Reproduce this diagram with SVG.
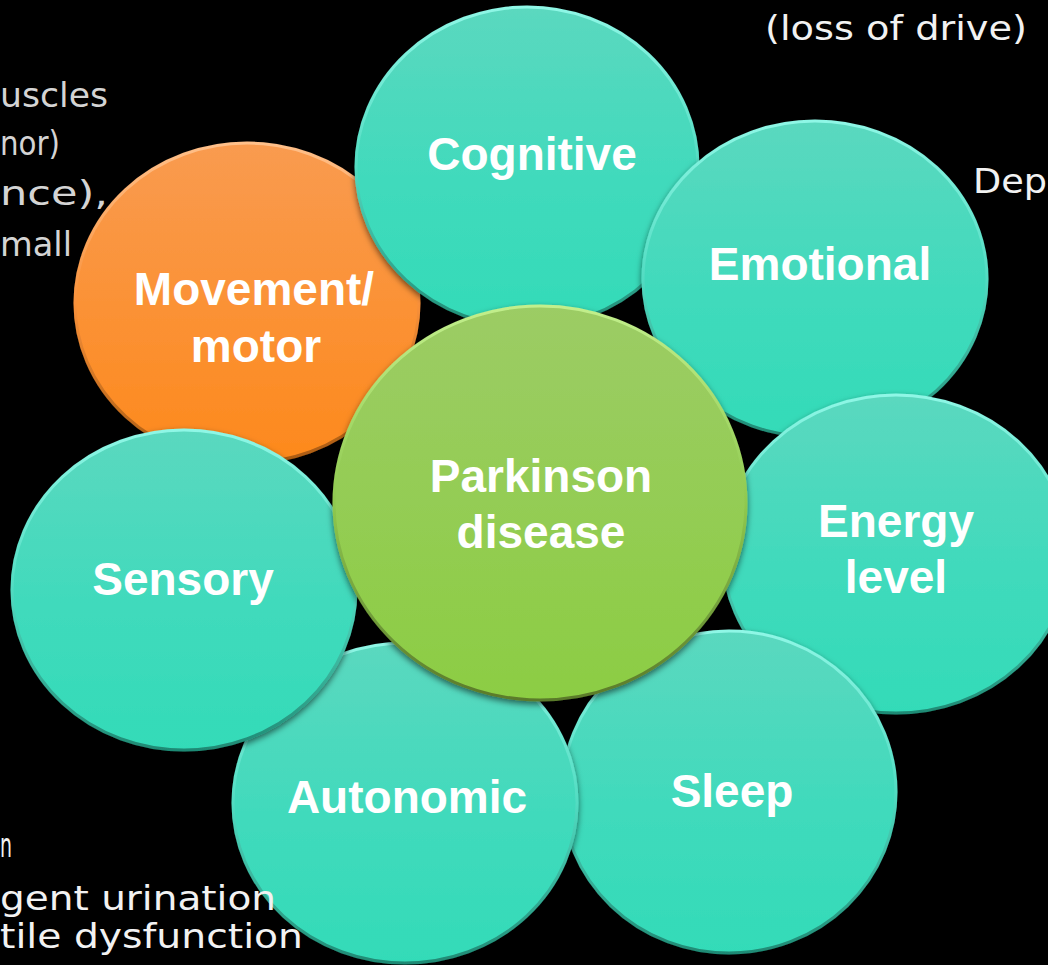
<svg xmlns="http://www.w3.org/2000/svg" width="1048" height="965" viewBox="0 0 1048 965">
  <defs>
    <linearGradient id="gTeal" x1="0" y1="0" x2="0" y2="1">
      <stop offset="0" stop-color="#5bd8bf"/>
      <stop offset="0.55" stop-color="#40dabc"/>
      <stop offset="1" stop-color="#33dbb8"/>
    </linearGradient>
    <linearGradient id="sTeal" x1="0" y1="0" x2="0" y2="1">
      <stop offset="0" stop-color="#8ff7e6"/>
      <stop offset="0.5" stop-color="#52dcc2"/>
      <stop offset="1" stop-color="#1f8a74"/>
    </linearGradient>
    <linearGradient id="gGreen" x1="0" y1="0" x2="0" y2="1">
      <stop offset="0" stop-color="#9ccc65"/>
      <stop offset="1" stop-color="#8ccd43"/>
    </linearGradient>
    <linearGradient id="sGreen" x1="0" y1="0" x2="0" y2="1">
      <stop offset="0" stop-color="#c2ef8c"/>
      <stop offset="0.5" stop-color="#8fc94f"/>
      <stop offset="1" stop-color="#5a7a2a"/>
    </linearGradient>
    <linearGradient id="gOrange" x1="0" y1="0" x2="0" y2="1">
      <stop offset="0" stop-color="#f99b50"/>
      <stop offset="1" stop-color="#fd891c"/>
    </linearGradient>
    <linearGradient id="sOrange" x1="0" y1="0" x2="0" y2="1">
      <stop offset="0" stop-color="#ffc08a"/>
      <stop offset="0.5" stop-color="#f9913a"/>
      <stop offset="1" stop-color="#a85a10"/>
    </linearGradient>
    <filter id="sh" x="-10%" y="-10%" width="120%" height="125%">
      <feDropShadow dx="0" dy="3" stdDeviation="3" flood-color="#000" flood-opacity="0.55"/>
    </filter>
  </defs>
  <style>
    .teal { fill: url(#gTeal); stroke: url(#sTeal); stroke-width: 3; filter: url(#sh); }
    .green { fill: url(#gGreen); stroke: url(#sGreen); stroke-width: 3; filter: url(#sh); }
    .orange { fill: url(#gOrange); stroke: url(#sOrange); stroke-width: 3; filter: url(#sh); }
    .lbl { font-family: "Liberation Sans", Arial, sans-serif; font-weight: bold; font-size: 46px; fill: #ffffff; text-anchor: middle; }
    .note { font-family: "DejaVu Sans", "Liberation Sans", sans-serif; font-size: 33px; fill: #f2f2f2; }
    .gray { fill: #d4d4d4; }
  </style>
  <rect x="0" y="0" width="1048" height="965" fill="#000000"/>

  <g id="movement">
    <ellipse class="orange" cx="247" cy="303" rx="172" ry="160"/>
    <text class="lbl" x="254" y="305">Movement/</text>
    <text class="lbl" x="256" y="362">motor</text>
  </g>
  <g id="cognitive">
    <ellipse class="teal" cx="527" cy="167" rx="171" ry="160"/>
    <text class="lbl" x="532" y="170">Cognitive</text>
  </g>
  <g id="emotional">
    <ellipse class="teal" cx="815" cy="279" rx="172" ry="158"/>
    <text class="lbl" x="820" y="280">Emotional</text>
  </g>
  <g id="energy">
    <ellipse class="teal" cx="896" cy="554" rx="173" ry="159"/>
    <text class="lbl" x="896" y="537">Energy</text>
    <text class="lbl" x="896" y="593">level</text>
  </g>
  <g id="sleep">
    <ellipse class="teal" cx="729" cy="792" rx="167" ry="161"/>
    <text class="lbl" x="732" y="807">Sleep</text>
  </g>
  <g id="autonomic">
    <ellipse class="teal" cx="405" cy="803" rx="172" ry="160"/>
    <text class="lbl" x="407" y="813">Autonomic</text>
  </g>
  <g id="sensory">
    <ellipse class="teal" cx="184" cy="590" rx="172" ry="160"/>
    <text class="lbl" x="183" y="595">Sensory</text>
  </g>
  <g id="parkinson">
    <ellipse class="green" cx="540" cy="503" rx="206" ry="197"/>
    <text class="lbl" x="541" y="492">Parkinson</text>
    <text class="lbl" x="541" y="548">disease</text>
  </g>

  <g id="notes">
    <text class="note gray" x="0" y="107" textLength="108" lengthAdjust="spacingAndGlyphs">uscles</text>
    <text class="note gray" x="0" y="155" textLength="60" lengthAdjust="spacingAndGlyphs">nor)</text>
    <text class="note gray" x="0" y="205" textLength="108" lengthAdjust="spacingAndGlyphs">nce),</text>
    <text class="note gray" x="0" y="256" textLength="72" lengthAdjust="spacingAndGlyphs">mall</text>
    <text class="note" x="765" y="40" textLength="262" lengthAdjust="spacingAndGlyphs">(loss of drive)</text>
    <text class="note" x="973" y="193" textLength="74" lengthAdjust="spacingAndGlyphs">Dep</text>
    <text class="note" x="0" y="857" textLength="12" lengthAdjust="spacingAndGlyphs">n</text>
    <text class="note" x="0" y="910" textLength="276" lengthAdjust="spacingAndGlyphs">gent urination</text>
    <text class="note" x="0" y="948" textLength="303" lengthAdjust="spacingAndGlyphs">tile dysfunction</text>
  </g>
</svg>
